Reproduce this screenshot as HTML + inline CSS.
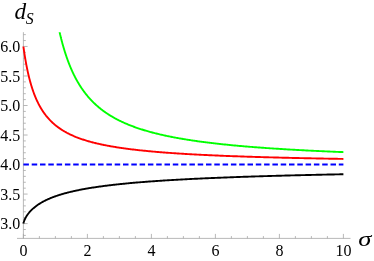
<!DOCTYPE html>
<html><head><meta charset="utf-8"><style>
html,body{margin:0;padding:0;background:#fff;}
svg{display:block;will-change:transform}
text{font-family:"Liberation Serif",serif;font-size:16px;fill:#000}
</style></head><body>
<svg width="374" height="261" viewBox="0 0 374 261">
<rect width="374" height="261" fill="#fff"/>
<g stroke="#a6a6a6" stroke-width="0.8" fill="none">
<line x1="17" y1="238.4" x2="350.5" y2="238.4"/>
<line x1="23.4" y1="32.2" x2="23.4" y2="238.4"/>
<line x1="23.40" y1="238.4" x2="23.40" y2="233.9"/>
<line x1="39.40" y1="238.4" x2="39.40" y2="236.1"/>
<line x1="55.40" y1="238.4" x2="55.40" y2="236.1"/>
<line x1="71.40" y1="238.4" x2="71.40" y2="236.1"/>
<line x1="87.40" y1="238.4" x2="87.40" y2="233.9"/>
<line x1="103.40" y1="238.4" x2="103.40" y2="236.1"/>
<line x1="119.40" y1="238.4" x2="119.40" y2="236.1"/>
<line x1="135.40" y1="238.4" x2="135.40" y2="236.1"/>
<line x1="151.40" y1="238.4" x2="151.40" y2="233.9"/>
<line x1="167.40" y1="238.4" x2="167.40" y2="236.1"/>
<line x1="183.40" y1="238.4" x2="183.40" y2="236.1"/>
<line x1="199.40" y1="238.4" x2="199.40" y2="236.1"/>
<line x1="215.40" y1="238.4" x2="215.40" y2="233.9"/>
<line x1="231.40" y1="238.4" x2="231.40" y2="236.1"/>
<line x1="247.40" y1="238.4" x2="247.40" y2="236.1"/>
<line x1="263.40" y1="238.4" x2="263.40" y2="236.1"/>
<line x1="279.40" y1="238.4" x2="279.40" y2="233.9"/>
<line x1="295.40" y1="238.4" x2="295.40" y2="236.1"/>
<line x1="311.40" y1="238.4" x2="311.40" y2="236.1"/>
<line x1="327.40" y1="238.4" x2="327.40" y2="236.1"/>
<line x1="343.40" y1="238.4" x2="343.40" y2="233.9"/>
<line x1="23.4" y1="235.41" x2="25.799999999999997" y2="235.41"/>
<line x1="23.4" y1="229.50" x2="25.799999999999997" y2="229.50"/>
<line x1="23.4" y1="223.60" x2="27.599999999999998" y2="223.60"/>
<line x1="23.4" y1="217.69" x2="25.799999999999997" y2="217.69"/>
<line x1="23.4" y1="211.79" x2="25.799999999999997" y2="211.79"/>
<line x1="23.4" y1="205.88" x2="25.799999999999997" y2="205.88"/>
<line x1="23.4" y1="199.98" x2="25.799999999999997" y2="199.98"/>
<line x1="23.4" y1="194.07" x2="27.599999999999998" y2="194.07"/>
<line x1="23.4" y1="188.17" x2="25.799999999999997" y2="188.17"/>
<line x1="23.4" y1="182.26" x2="25.799999999999997" y2="182.26"/>
<line x1="23.4" y1="176.36" x2="25.799999999999997" y2="176.36"/>
<line x1="23.4" y1="170.46" x2="25.799999999999997" y2="170.46"/>
<line x1="23.4" y1="164.55" x2="27.599999999999998" y2="164.55"/>
<line x1="23.4" y1="158.65" x2="25.799999999999997" y2="158.65"/>
<line x1="23.4" y1="152.74" x2="25.799999999999997" y2="152.74"/>
<line x1="23.4" y1="146.84" x2="25.799999999999997" y2="146.84"/>
<line x1="23.4" y1="140.93" x2="25.799999999999997" y2="140.93"/>
<line x1="23.4" y1="135.03" x2="27.599999999999998" y2="135.03"/>
<line x1="23.4" y1="129.12" x2="25.799999999999997" y2="129.12"/>
<line x1="23.4" y1="123.21" x2="25.799999999999997" y2="123.21"/>
<line x1="23.4" y1="117.31" x2="25.799999999999997" y2="117.31"/>
<line x1="23.4" y1="111.40" x2="25.799999999999997" y2="111.40"/>
<line x1="23.4" y1="105.50" x2="27.599999999999998" y2="105.50"/>
<line x1="23.4" y1="99.60" x2="25.799999999999997" y2="99.60"/>
<line x1="23.4" y1="93.69" x2="25.799999999999997" y2="93.69"/>
<line x1="23.4" y1="87.79" x2="25.799999999999997" y2="87.79"/>
<line x1="23.4" y1="81.88" x2="25.799999999999997" y2="81.88"/>
<line x1="23.4" y1="75.97" x2="27.599999999999998" y2="75.97"/>
<line x1="23.4" y1="70.07" x2="25.799999999999997" y2="70.07"/>
<line x1="23.4" y1="64.16" x2="25.799999999999997" y2="64.16"/>
<line x1="23.4" y1="58.26" x2="25.799999999999997" y2="58.26"/>
<line x1="23.4" y1="52.35" x2="25.799999999999997" y2="52.35"/>
<line x1="23.4" y1="46.45" x2="27.599999999999998" y2="46.45"/>
<line x1="23.4" y1="40.55" x2="25.799999999999997" y2="40.55"/>
<line x1="23.4" y1="34.64" x2="25.799999999999997" y2="34.64"/>
</g>
<g fill="none" stroke-width="1.9" stroke-linejoin="round">
<path d="M59.63,32.28 L59.63,32.29 L59.63,32.31 L59.64,32.35 L59.65,32.40 L59.67,32.47 L59.69,32.56 L59.71,32.66 L59.74,32.77 L59.77,32.90 L59.80,33.05 L59.84,33.21 L59.88,33.39 L59.93,33.58 L59.98,33.78 L60.03,34.00 L60.08,34.23 L60.14,34.48 L60.20,34.75 L60.27,35.02 L60.34,35.31 L60.41,35.61 L60.49,35.93 L60.57,36.26 L60.65,36.60 L60.74,36.96 L60.83,37.33 L60.93,37.71 L61.02,38.10 L61.13,38.50 L61.23,38.92 L61.34,39.34 L61.45,39.78 L61.57,40.23 L61.69,40.69 L61.81,41.16 L61.94,41.64 L62.07,42.12 L62.20,42.62 L62.34,43.13 L62.48,43.65 L62.62,44.17 L62.77,44.70 L62.92,45.25 L63.08,45.79 L63.24,46.35 L63.40,46.92 L63.56,47.49 L63.73,48.06 L63.91,48.65 L64.08,49.24 L64.26,49.83 L64.45,50.44 L64.63,51.04 L64.82,51.66 L65.02,52.27 L65.22,52.89 L65.42,53.52 L65.62,54.15 L65.83,54.78 L66.04,55.42 L66.26,56.06 L66.48,56.71 L66.70,57.35 L66.93,58.00 L67.16,58.65 L67.39,59.31 L67.63,59.96 L67.87,60.62 L68.11,61.28 L68.36,61.94 L68.61,62.60 L68.87,63.26 L69.13,63.93 L69.39,64.59 L69.65,65.25 L69.92,65.92 L70.19,66.58 L70.47,67.25 L70.75,67.91 L71.03,68.57 L71.32,69.23 L71.61,69.89 L71.91,70.55 L72.20,71.21 L72.50,71.87 L72.81,72.53 L73.12,73.18 L73.43,73.84 L73.75,74.49 L74.06,75.14 L74.39,75.78 L74.71,76.43 L75.04,77.07 L75.38,77.71 L75.71,78.35 L76.05,78.99 L76.40,79.62 L76.75,80.25 L77.10,80.88 L77.45,81.50 L77.81,82.12 L78.17,82.74 L78.54,83.35 L78.91,83.97 L79.28,84.58 L79.65,85.18 L80.03,85.78 L80.42,86.38 L80.80,86.98 L81.19,87.57 L81.59,88.16 L81.99,88.74 L82.39,89.32 L82.79,89.90 L83.20,90.47 L83.61,91.04 L84.03,91.61 L84.45,92.17 L84.87,92.73 L85.29,93.28 L85.72,93.83 L86.16,94.38 L86.59,94.92 L87.03,95.46 L87.48,96.00 L87.92,96.53 L88.38,97.06 L88.83,97.58 L89.29,98.10 L89.75,98.61 L90.22,99.12 L90.68,99.63 L91.16,100.14 L91.63,100.63 L92.11,101.13 L92.60,101.62 L93.08,102.11 L93.57,102.59 L94.07,103.07 L94.56,103.55 L95.06,104.02 L95.57,104.49 L96.08,104.95 L96.59,105.41 L97.10,105.87 L97.62,106.32 L98.14,106.77 L98.67,107.22 L99.20,107.66 L99.73,108.09 L100.27,108.53 L100.81,108.96 L101.35,109.38 L101.90,109.81 L102.45,110.23 L103.00,110.64 L103.56,111.05 L104.12,111.46 L104.69,111.86 L105.26,112.26 L105.83,112.66 L106.41,113.06 L106.99,113.45 L107.57,113.83 L108.15,114.22 L108.74,114.60 L109.34,114.97 L109.94,115.34 L110.54,115.71 L111.14,116.08 L111.75,116.44 L112.36,116.80 L112.97,117.16 L113.59,117.51 L114.21,117.86 L114.84,118.21 L115.47,118.55 L116.10,118.89 L116.74,119.23 L117.38,119.57 L118.02,119.90 L118.67,120.23 L119.32,120.55 L119.97,120.87 L120.63,121.19 L121.29,121.51 L121.96,121.82 L122.63,122.13 L123.30,122.44 L123.97,122.75 L124.65,123.05 L125.34,123.35 L126.02,123.65 L126.71,123.94 L127.41,124.23 L128.10,124.52 L128.80,124.81 L129.51,125.09 L130.21,125.37 L130.93,125.65 L131.64,125.92 L132.36,126.20 L133.08,126.47 L133.81,126.74 L134.54,127.00 L135.27,127.27 L136.00,127.53 L136.74,127.78 L137.49,128.04 L138.23,128.30 L138.98,128.55 L139.74,128.80 L140.50,129.04 L141.26,129.29 L142.02,129.53 L142.79,129.77 L143.56,130.01 L144.34,130.25 L145.12,130.48 L145.90,130.71 L146.68,130.94 L147.47,131.17 L148.27,131.39 L149.06,131.62 L149.86,131.84 L150.67,132.06 L151.48,132.28 L152.29,132.49 L153.10,132.71 L153.92,132.92 L154.74,133.13 L155.57,133.34 L156.40,133.54 L157.23,133.75 L158.06,133.95 L158.90,134.15 L159.75,134.35 L160.59,134.55 L161.44,134.74 L162.30,134.94 L163.15,135.13 L164.02,135.32 L164.88,135.51 L165.75,135.70 L166.62,135.88 L167.50,136.07 L168.37,136.25 L169.26,136.43 L170.14,136.61 L171.03,136.79 L171.92,136.96 L172.82,137.14 L173.72,137.31 L174.63,137.48 L175.53,137.65 L176.44,137.82 L177.36,137.99 L178.28,138.15 L179.20,138.32 L180.12,138.48 L181.05,138.64 L181.98,138.80 L182.92,138.96 L183.86,139.12 L184.80,139.27 L185.75,139.43 L186.70,139.58 L187.65,139.73 L188.61,139.88 L189.57,140.03 L190.53,140.18 L191.50,140.33 L192.47,140.48 L193.45,140.62 L194.43,140.76 L195.41,140.91 L196.39,141.05 L197.38,141.19 L198.38,141.33 L199.37,141.46 L200.37,141.60 L201.38,141.73 L202.38,141.87 L203.39,142.00 L204.41,142.13 L205.43,142.27 L206.45,142.40 L207.47,142.52 L208.50,142.65 L209.53,142.78 L210.57,142.90 L211.61,143.03 L212.65,143.15 L213.70,143.28 L214.75,143.40 L215.80,143.52 L216.86,143.64 L217.92,143.76 L218.98,143.87 L220.05,143.99 L221.12,144.11 L222.20,144.22 L223.27,144.34 L224.36,144.45 L225.44,144.56 L226.53,144.67 L227.62,144.78 L228.72,144.89 L229.82,145.00 L230.92,145.11 L232.03,145.22 L233.14,145.33 L234.25,145.43 L235.37,145.54 L236.49,145.64 L237.62,145.74 L238.75,145.84 L239.88,145.95 L241.01,146.05 L242.15,146.15 L243.30,146.25 L244.44,146.34 L245.59,146.44 L246.74,146.54 L247.90,146.64 L249.06,146.73 L250.23,146.83 L251.39,146.92 L252.56,147.01 L253.74,147.11 L254.92,147.20 L256.10,147.29 L257.28,147.38 L258.47,147.47 L259.67,147.56 L260.86,147.65 L262.06,147.74 L263.26,147.82 L264.47,147.91 L265.68,148.00 L266.90,148.08 L268.11,148.17 L269.33,148.25 L270.56,148.33 L271.79,148.42 L273.02,148.50 L274.25,148.58 L275.49,148.66 L276.73,148.74 L277.98,148.82 L279.23,148.90 L280.48,148.98 L281.74,149.06 L283.00,149.13 L284.26,149.21 L285.53,149.29 L286.80,149.36 L288.08,149.44 L289.35,149.51 L290.64,149.59 L291.92,149.66 L293.21,149.74 L294.50,149.81 L295.80,149.88 L297.10,149.95 L298.40,150.02 L299.71,150.09 L301.02,150.17 L302.33,150.23 L303.65,150.30 L304.97,150.37 L306.29,150.44 L307.62,150.51 L308.95,150.58 L310.29,150.64 L311.63,150.71 L312.97,150.78 L314.32,150.84 L315.66,150.91 L317.02,150.97 L318.37,151.04 L319.73,151.10 L321.10,151.16 L322.46,151.23 L323.84,151.29 L325.21,151.35 L326.59,151.41 L327.97,151.47 L329.35,151.53 L330.74,151.59 L332.13,151.65 L333.53,151.71 L334.93,151.77 L336.33,151.83 L337.74,151.89 L339.15,151.95 L340.56,152.01 L341.98,152.06 L343.40,152.12" stroke="#00ff00"/>
<path d="M23.40,46.45 L23.40,46.46 L23.41,46.51 L23.42,46.58 L23.43,46.69 L23.45,46.82 L23.47,46.98 L23.50,47.17 L23.53,47.39 L23.56,47.64 L23.60,47.92 L23.64,48.22 L23.69,48.55 L23.74,48.91 L23.79,49.29 L23.85,49.70 L23.91,50.13 L23.98,50.59 L24.05,51.07 L24.13,51.57 L24.20,52.10 L24.29,52.65 L24.37,53.22 L24.46,53.81 L24.56,54.42 L24.66,55.05 L24.76,55.69 L24.87,56.36 L24.98,57.04 L25.09,57.74 L25.21,58.45 L25.33,59.17 L25.46,59.91 L25.59,60.66 L25.72,61.43 L25.86,62.20 L26.01,62.99 L26.15,63.78 L26.30,64.58 L26.46,65.40 L26.62,66.22 L26.78,67.04 L26.95,67.87 L27.12,68.71 L27.29,69.55 L27.47,70.40 L27.65,71.25 L27.84,72.10 L28.03,72.96 L28.23,73.82 L28.43,74.68 L28.63,75.54 L28.84,76.40 L29.05,77.26 L29.26,78.11 L29.48,78.97 L29.70,79.83 L29.93,80.68 L30.16,81.53 L30.40,82.38 L30.64,83.23 L30.88,84.07 L31.13,84.91 L31.38,85.74 L31.63,86.57 L31.89,87.40 L32.16,88.22 L32.42,89.04 L32.69,89.85 L32.97,90.65 L33.25,91.45 L33.53,92.24 L33.82,93.03 L34.11,93.81 L34.41,94.58 L34.71,95.35 L35.01,96.11 L35.32,96.86 L35.63,97.61 L35.94,98.35 L36.26,99.08 L36.59,99.81 L36.92,100.53 L37.25,101.24 L37.58,101.94 L37.92,102.64 L38.27,103.33 L38.61,104.01 L38.97,104.69 L39.32,105.35 L39.68,106.01 L40.05,106.67 L40.41,107.31 L40.78,107.95 L41.16,108.58 L41.54,109.20 L41.92,109.82 L42.31,110.43 L42.70,111.03 L43.10,111.62 L43.50,112.21 L43.90,112.79 L44.31,113.36 L44.72,113.92 L45.14,114.48 L45.56,115.03 L45.98,115.58 L46.41,116.11 L46.85,116.65 L47.28,117.17 L47.72,117.69 L48.17,118.20 L48.61,118.70 L49.07,119.20 L49.52,119.69 L49.98,120.18 L50.45,120.65 L50.92,121.13 L51.39,121.59 L51.86,122.05 L52.34,122.51 L52.83,122.96 L53.32,123.40 L53.81,123.83 L54.31,124.27 L54.81,124.69 L55.31,125.11 L55.82,125.52 L56.33,125.93 L56.85,126.34 L57.37,126.74 L57.89,127.13 L58.42,127.52 L58.96,127.90 L59.49,128.28 L60.03,128.65 L60.58,129.02 L61.13,129.38 L61.68,129.74 L62.24,130.09 L62.80,130.44 L63.36,130.78 L63.93,131.12 L64.50,131.46 L65.08,131.79 L65.66,132.12 L66.25,132.44 L66.83,132.76 L67.43,133.07 L68.02,133.38 L68.63,133.69 L69.23,133.99 L69.84,134.29 L70.45,134.58 L71.07,134.87 L71.69,135.16 L72.32,135.44 L72.95,135.72 L73.58,136.00 L74.22,136.27 L74.86,136.54 L75.50,136.80 L76.15,137.07 L76.80,137.32 L77.46,137.58 L78.12,137.83 L78.79,138.08 L79.46,138.33 L80.13,138.57 L80.81,138.81 L81.49,139.05 L82.18,139.28 L82.86,139.51 L83.56,139.74 L84.26,139.96 L84.96,140.19 L85.66,140.41 L86.37,140.62 L87.09,140.84 L87.80,141.05 L88.53,141.26 L89.25,141.46 L89.98,141.67 L90.71,141.87 L91.45,142.07 L92.19,142.27 L92.94,142.46 L93.69,142.65 L94.44,142.84 L95.20,143.03 L95.96,143.21 L96.73,143.40 L97.50,143.58 L98.27,143.76 L99.05,143.93 L99.83,144.11 L100.62,144.28 L101.41,144.45 L102.20,144.62 L103.00,144.78 L103.80,144.95 L104.61,145.11 L105.42,145.27 L106.23,145.43 L107.05,145.59 L107.87,145.74 L108.70,145.90 L109.53,146.05 L110.36,146.20 L111.20,146.35 L112.04,146.49 L112.89,146.64 L113.74,146.78 L114.59,146.92 L115.45,147.06 L116.31,147.20 L117.18,147.34 L118.05,147.47 L118.93,147.61 L119.80,147.74 L120.69,147.87 L121.57,148.00 L122.46,148.13 L123.36,148.25 L124.26,148.38 L125.16,148.50 L126.06,148.63 L126.98,148.75 L127.89,148.87 L128.81,148.99 L129.73,149.10 L130.66,149.22 L131.59,149.33 L132.52,149.45 L133.46,149.56 L134.40,149.67 L135.35,149.78 L136.30,149.89 L137.26,150.00 L138.22,150.11 L139.18,150.21 L140.14,150.32 L141.12,150.42 L142.09,150.52 L143.07,150.62 L144.05,150.72 L145.04,150.82 L146.03,150.92 L147.03,151.02 L148.02,151.11 L149.03,151.21 L150.03,151.30 L151.05,151.40 L152.06,151.49 L153.08,151.58 L154.10,151.67 L155.13,151.76 L156.16,151.85 L157.20,151.94 L158.24,152.02 L159.28,152.11 L160.33,152.19 L161.38,152.28 L162.43,152.36 L163.49,152.44 L164.55,152.53 L165.62,152.61 L166.69,152.69 L167.77,152.77 L168.85,152.85 L169.93,152.92 L171.02,153.00 L172.11,153.08 L173.21,153.15 L174.31,153.23 L175.41,153.30 L176.52,153.38 L177.63,153.45 L178.74,153.52 L179.86,153.59 L180.99,153.66 L182.11,153.73 L183.25,153.80 L184.38,153.87 L185.52,153.94 L186.67,154.01 L187.81,154.08 L188.96,154.14 L190.12,154.21 L191.28,154.27 L192.44,154.34 L193.61,154.40 L194.78,154.47 L195.96,154.53 L197.14,154.59 L198.32,154.65 L199.51,154.71 L200.70,154.77 L201.90,154.83 L203.10,154.89 L204.30,154.95 L205.51,155.01 L206.72,155.07 L207.94,155.13 L209.16,155.18 L210.38,155.24 L211.61,155.30 L212.84,155.35 L214.08,155.41 L215.32,155.46 L216.56,155.52 L217.81,155.57 L219.07,155.62 L220.32,155.68 L221.58,155.73 L222.85,155.78 L224.11,155.83 L225.39,155.88 L226.66,155.93 L227.94,155.98 L229.23,156.03 L230.52,156.08 L231.81,156.13 L233.11,156.18 L234.41,156.23 L235.71,156.27 L237.02,156.32 L238.33,156.37 L239.65,156.41 L240.97,156.46 L242.29,156.51 L243.62,156.55 L244.95,156.60 L246.29,156.64 L247.63,156.68 L248.98,156.73 L250.33,156.77 L251.68,156.81 L253.03,156.86 L254.40,156.90 L255.76,156.94 L257.13,156.98 L258.50,157.02 L259.88,157.07 L261.26,157.11 L262.64,157.15 L264.03,157.19 L265.43,157.23 L266.82,157.27 L268.22,157.31 L269.63,157.34 L271.04,157.38 L272.45,157.42 L273.87,157.46 L275.29,157.50 L276.71,157.53 L278.14,157.57 L279.58,157.61 L281.01,157.64 L282.46,157.68 L283.90,157.72 L285.35,157.75 L286.80,157.79 L288.26,157.82 L289.72,157.86 L291.19,157.89 L292.66,157.93 L294.13,157.96 L295.61,157.99 L297.09,158.03 L298.57,158.06 L300.06,158.09 L301.56,158.13 L303.05,158.16 L304.56,158.19 L306.06,158.22 L307.57,158.25 L309.08,158.29 L310.60,158.32 L312.12,158.35 L313.65,158.38 L315.18,158.41 L316.71,158.44 L318.25,158.47 L319.79,158.50 L321.34,158.53 L322.89,158.56 L324.44,158.59 L326.00,158.62 L327.56,158.65 L329.13,158.68 L330.70,158.71 L332.27,158.73 L333.85,158.76 L335.43,158.79 L337.02,158.82 L338.61,158.84 L340.20,158.87 L341.80,158.90 L343.40,158.93" stroke="#ff0000"/>
<path d="M23.40,223.60 L23.40,223.57 L23.41,223.52 L23.42,223.44 L23.43,223.35 L23.45,223.25 L23.47,223.14 L23.50,223.02 L23.53,222.89 L23.56,222.75 L23.60,222.60 L23.64,222.45 L23.69,222.28 L23.74,222.12 L23.79,221.94 L23.85,221.76 L23.91,221.57 L23.98,221.38 L24.05,221.19 L24.13,220.99 L24.20,220.78 L24.29,220.57 L24.37,220.36 L24.46,220.14 L24.56,219.92 L24.66,219.70 L24.76,219.47 L24.87,219.24 L24.98,219.01 L25.09,218.78 L25.21,218.54 L25.33,218.30 L25.46,218.06 L25.59,217.82 L25.72,217.57 L25.86,217.32 L26.01,217.08 L26.15,216.83 L26.30,216.58 L26.46,216.32 L26.62,216.07 L26.78,215.82 L26.95,215.56 L27.12,215.31 L27.29,215.05 L27.47,214.79 L27.65,214.54 L27.84,214.28 L28.03,214.02 L28.23,213.76 L28.43,213.51 L28.63,213.25 L28.84,212.99 L29.05,212.73 L29.26,212.47 L29.48,212.21 L29.70,211.96 L29.93,211.70 L30.16,211.44 L30.40,211.18 L30.64,210.93 L30.88,210.67 L31.13,210.42 L31.38,210.16 L31.63,209.91 L31.89,209.66 L32.16,209.40 L32.42,209.15 L32.69,208.90 L32.97,208.65 L33.25,208.40 L33.53,208.15 L33.82,207.91 L34.11,207.66 L34.41,207.41 L34.71,207.17 L35.01,206.92 L35.32,206.68 L35.63,206.44 L35.94,206.20 L36.26,205.96 L36.59,205.72 L36.92,205.49 L37.25,205.25 L37.58,205.02 L37.92,204.78 L38.27,204.55 L38.61,204.32 L38.97,204.09 L39.32,203.86 L39.68,203.63 L40.05,203.41 L40.41,203.18 L40.78,202.96 L41.16,202.74 L41.54,202.52 L41.92,202.30 L42.31,202.08 L42.70,201.86 L43.10,201.65 L43.50,201.43 L43.90,201.22 L44.31,201.01 L44.72,200.80 L45.14,200.59 L45.56,200.38 L45.98,200.17 L46.41,199.97 L46.85,199.76 L47.28,199.56 L47.72,199.36 L48.17,199.16 L48.61,198.96 L49.07,198.77 L49.52,198.57 L49.98,198.38 L50.45,198.18 L50.92,197.99 L51.39,197.80 L51.86,197.61 L52.34,197.42 L52.83,197.23 L53.32,197.05 L53.81,196.87 L54.31,196.68 L54.81,196.50 L55.31,196.32 L55.82,196.14 L56.33,195.96 L56.85,195.79 L57.37,195.61 L57.89,195.44 L58.42,195.26 L58.96,195.09 L59.49,194.92 L60.03,194.75 L60.58,194.58 L61.13,194.42 L61.68,194.25 L62.24,194.09 L62.80,193.92 L63.36,193.76 L63.93,193.60 L64.50,193.44 L65.08,193.28 L65.66,193.12 L66.25,192.97 L66.83,192.81 L67.43,192.66 L68.02,192.51 L68.63,192.35 L69.23,192.20 L69.84,192.05 L70.45,191.90 L71.07,191.76 L71.69,191.61 L72.32,191.47 L72.95,191.32 L73.58,191.18 L74.22,191.04 L74.86,190.89 L75.50,190.75 L76.15,190.61 L76.80,190.48 L77.46,190.34 L78.12,190.20 L78.79,190.07 L79.46,189.93 L80.13,189.80 L80.81,189.67 L81.49,189.54 L82.18,189.41 L82.86,189.28 L83.56,189.15 L84.26,189.02 L84.96,188.89 L85.66,188.77 L86.37,188.64 L87.09,188.52 L87.80,188.40 L88.53,188.27 L89.25,188.15 L89.98,188.03 L90.71,187.91 L91.45,187.79 L92.19,187.68 L92.94,187.56 L93.69,187.44 L94.44,187.33 L95.20,187.21 L95.96,187.10 L96.73,186.99 L97.50,186.88 L98.27,186.76 L99.05,186.65 L99.83,186.54 L100.62,186.44 L101.41,186.33 L102.20,186.22 L103.00,186.11 L103.80,186.01 L104.61,185.90 L105.42,185.80 L106.23,185.69 L107.05,185.59 L107.87,185.49 L108.70,185.39 L109.53,185.29 L110.36,185.19 L111.20,185.09 L112.04,184.99 L112.89,184.89 L113.74,184.79 L114.59,184.70 L115.45,184.60 L116.31,184.51 L117.18,184.41 L118.05,184.32 L118.93,184.23 L119.80,184.13 L120.69,184.04 L121.57,183.95 L122.46,183.86 L123.36,183.77 L124.26,183.68 L125.16,183.59 L126.06,183.50 L126.98,183.42 L127.89,183.33 L128.81,183.24 L129.73,183.16 L130.66,183.07 L131.59,182.99 L132.52,182.90 L133.46,182.82 L134.40,182.74 L135.35,182.65 L136.30,182.57 L137.26,182.49 L138.22,182.41 L139.18,182.33 L140.14,182.25 L141.12,182.17 L142.09,182.09 L143.07,182.01 L144.05,181.94 L145.04,181.86 L146.03,181.78 L147.03,181.71 L148.02,181.63 L149.03,181.56 L150.03,181.48 L151.05,181.41 L152.06,181.33 L153.08,181.26 L154.10,181.19 L155.13,181.12 L156.16,181.04 L157.20,180.97 L158.24,180.90 L159.28,180.83 L160.33,180.76 L161.38,180.69 L162.43,180.62 L163.49,180.56 L164.55,180.49 L165.62,180.42 L166.69,180.35 L167.77,180.29 L168.85,180.22 L169.93,180.15 L171.02,180.09 L172.11,180.02 L173.21,179.96 L174.31,179.90 L175.41,179.83 L176.52,179.77 L177.63,179.71 L178.74,179.64 L179.86,179.58 L180.99,179.52 L182.11,179.46 L183.25,179.40 L184.38,179.34 L185.52,179.28 L186.67,179.22 L187.81,179.16 L188.96,179.10 L190.12,179.04 L191.28,178.98 L192.44,178.92 L193.61,178.86 L194.78,178.81 L195.96,178.75 L197.14,178.69 L198.32,178.64 L199.51,178.58 L200.70,178.53 L201.90,178.47 L203.10,178.42 L204.30,178.36 L205.51,178.31 L206.72,178.25 L207.94,178.20 L209.16,178.15 L210.38,178.09 L211.61,178.04 L212.84,177.99 L214.08,177.94 L215.32,177.88 L216.56,177.83 L217.81,177.78 L219.07,177.73 L220.32,177.68 L221.58,177.63 L222.85,177.58 L224.11,177.53 L225.39,177.48 L226.66,177.43 L227.94,177.38 L229.23,177.33 L230.52,177.29 L231.81,177.24 L233.11,177.19 L234.41,177.14 L235.71,177.10 L237.02,177.05 L238.33,177.00 L239.65,176.96 L240.97,176.91 L242.29,176.87 L243.62,176.82 L244.95,176.77 L246.29,176.73 L247.63,176.69 L248.98,176.64 L250.33,176.60 L251.68,176.55 L253.03,176.51 L254.40,176.47 L255.76,176.42 L257.13,176.38 L258.50,176.34 L259.88,176.29 L261.26,176.25 L262.64,176.21 L264.03,176.17 L265.43,176.13 L266.82,176.09 L268.22,176.04 L269.63,176.00 L271.04,175.96 L272.45,175.92 L273.87,175.88 L275.29,175.84 L276.71,175.80 L278.14,175.76 L279.58,175.72 L281.01,175.69 L282.46,175.65 L283.90,175.61 L285.35,175.57 L286.80,175.53 L288.26,175.49 L289.72,175.46 L291.19,175.42 L292.66,175.38 L294.13,175.34 L295.61,175.31 L297.09,175.27 L298.57,175.23 L300.06,175.20 L301.56,175.16 L303.05,175.12 L304.56,175.09 L306.06,175.05 L307.57,175.02 L309.08,174.98 L310.60,174.95 L312.12,174.91 L313.65,174.88 L315.18,174.84 L316.71,174.81 L318.25,174.77 L319.79,174.74 L321.34,174.71 L322.89,174.67 L324.44,174.64 L326.00,174.61 L327.56,174.57 L329.13,174.54 L330.70,174.51 L332.27,174.47 L333.85,174.44 L335.43,174.41 L337.02,174.38 L338.61,174.35 L340.20,174.31 L341.80,174.28 L343.40,174.25" stroke="#000000"/>
<line x1="23.40" y1="164.55" x2="343.40" y2="164.55" stroke="#0000ff" stroke-dasharray="5.5,2.8"/>
</g>
<text x="23.40" y="256" text-anchor="middle">0</text>
<text x="87.40" y="256" text-anchor="middle">2</text>
<text x="151.40" y="256" text-anchor="middle">4</text>
<text x="215.40" y="256" text-anchor="middle">6</text>
<text x="279.40" y="256" text-anchor="middle">8</text>
<text x="343.40" y="256" text-anchor="middle">10</text>
<text x="20.3" y="229.20" text-anchor="end">3.0</text>
<text x="20.3" y="199.67" text-anchor="end">3.5</text>
<text x="20.3" y="170.15" text-anchor="end">4.0</text>
<text x="20.3" y="140.62" text-anchor="end">4.5</text>
<text x="20.3" y="111.10" text-anchor="end">5.0</text>
<text x="20.3" y="81.57" text-anchor="end">5.5</text>
<text x="20.3" y="52.05" text-anchor="end">6.0</text>
<text x="14.5" y="18.6" style="font-style:italic;font-size:23.3px">d<tspan dx="-0.4" dy="5.5" style="font-size:15.8px">S</tspan></text>
<text transform="translate(358.2,245.6) scale(1.33,1)" style="font-style:italic;font-size:20px">σ</text>
</svg>
</body></html>
